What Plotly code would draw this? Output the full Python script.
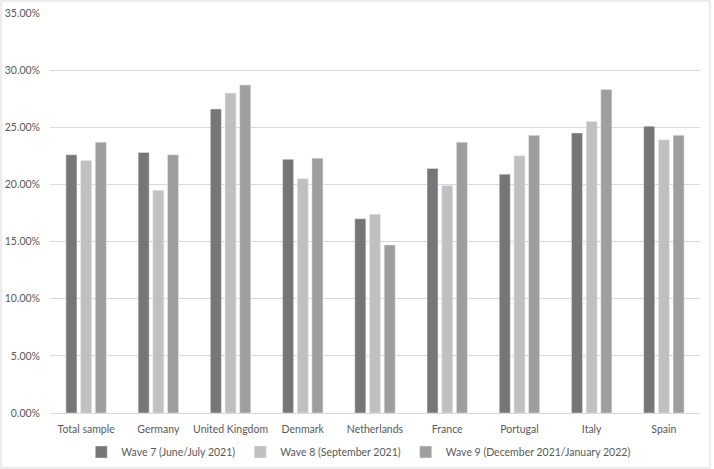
import plotly.graph_objects as go

countries = ["Total sample", "Germany", "United Kingdom", "Denmark", "Netherlands",
             "France", "Portugal", "Italy", "Spain"]
wave7 = [0.226, 0.228, 0.266, 0.222, 0.170, 0.214, 0.209, 0.245, 0.251]
wave8 = [0.221, 0.195, 0.280, 0.205, 0.174, 0.199, 0.225, 0.255, 0.239]
wave9 = [0.237, 0.226, 0.287, 0.223, 0.147, 0.237, 0.243, 0.283, 0.243]
y_ticks = [0, 0.05, 0.10, 0.15, 0.20, 0.25, 0.30, 0.35]

fig = go.Figure()
fig.add_trace(go.Bar(x=countries, y=wave7, name="Wave 7 (June/July 2021)", marker_color="#767676"))
fig.add_trace(go.Bar(x=countries, y=wave8, name="Wave 8 (September 2021)", marker_color="#c0c0c0"))
fig.add_trace(go.Bar(x=countries, y=wave9, name="Wave 9 (December 2021/January 2022)", marker_color="#9e9e9e"))

fig.update_layout(
    width=714, height=469,
    margin=dict(l=50, r=14, t=13, b=56, autoexpand=False),
    paper_bgcolor="white", plot_bgcolor="white",
    font=dict(family="Lato", size=10.5, color="#595959"),
    barmode="group", bargap=0.39, bargroupgap=0.25,
    legend=dict(orientation="h", x=0.475, xanchor="center", y=-0.0975, yanchor="middle",
                bgcolor="rgba(0,0,0,0)", font=dict(size=10.5, color="#595959"),
                itemwidth=30, tracegroupgap=0),
    showlegend=True,
)
fig.update_yaxes(range=[0, 0.35], tickvals=y_ticks, tickformat=".2%", automargin=False,
                 showgrid=True, gridcolor="#d9d9d9", gridwidth=1, ticklabelstandoff=9,
                 zeroline=False, showline=False, ticks="")
fig.update_xaxes(showline=True, linecolor="#d9d9d9", linewidth=1, ticks="",
                 showgrid=False, automargin=False, ticklabelstandoff=6)

# outer chart border
fig.add_shape(type="rect", xref="paper", yref="paper",
              x0=-49 / 650, x1=1 + 10 / 650, y0=-55 / 400, y1=1 + 12 / 400,
              line=dict(color="#d9d9d9", width=1), fillcolor="rgba(0,0,0,0)", layer="below")

fig.write_html("out.html", config={"displayModeBar": False},
               post_script="document.body.style.margin='0';")
